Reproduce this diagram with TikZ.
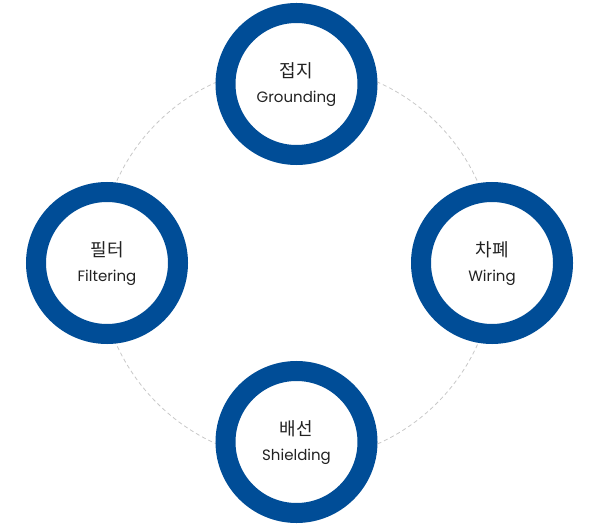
\documentclass[tikz,border=0pt]{standalone}
\usepackage{fontspec}
\setmainfont{Poppins}
\newfontfamily\kor{Noto Sans CJK KR}
\usetikzlibrary{calc}
\definecolor{ringblue}{RGB}{0,77,151}
\definecolor{dashgray}{RGB}{200,200,200}
\definecolor{textgray}{RGB}{34,34,34}
\tikzset{
	ring/.style={circle, draw=ringblue, line width=20bp, minimum size=142bp, inner sep=0pt},
	korlabel/.style={font=\kor\fontsize{18bp}{21bp}\selectfont, text=textgray, inner sep=0pt},
	englabel/.style={font=\fontsize{15bp}{18bp}\selectfont, text=textgray, inner sep=0pt}
}
\begin{document}
\begin{tikzpicture}[x=1bp, y=-1bp]
		%%%%% START %%%%%
		\useasboundingbox (0, 0) rectangle (600, 525);
		
		\draw[line width=0.8bp, color=dashgray, dash pattern=on 4bp off 3bp] (297, 263) circle (198);
		
		\node[ring, fill=white] (grounding) at (296.5, 84) {};
		\node[ring, fill=white] (filtering) at (107, 263) {};
		\node[ring, fill=white] (wiring) at (492, 263) {};
		\node[ring, fill=white] (shielding) at (296.5, 442) {};
		
		\node[korlabel] (groundingK) at ($(grounding)+(0, -13)$) {접지};
		\node[englabel] (groundingE) at ($(grounding)+(0, 15)$) {Grounding};
		
		\node[korlabel] (filteringK) at ($(filtering)+(0, -13)$) {필터};
		\node[englabel] (filteringE) at ($(filtering)+(0, 15)$) {Filtering};
		
		\node[korlabel] (wiringK) at ($(wiring)+(0, -13)$) {차폐};
		\node[englabel] (wiringE) at ($(wiring)+(0, 15)$) {Wiring};
		
		\node[korlabel] (shieldingK) at ($(shielding)+(0, -13)$) {배선};
		\node[englabel] (shieldingE) at ($(shielding)+(0, 15)$) {Shielding};
		
		%%%%% END %%%%%
\end{tikzpicture}
\end{document}
